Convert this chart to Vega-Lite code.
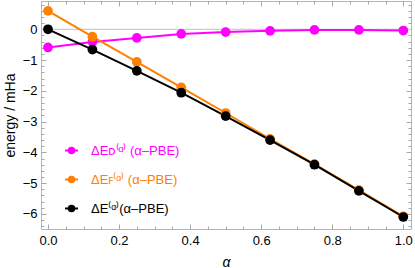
{
  "$schema": "https://vega.github.io/schema/vega-lite/v6.json",
  "width": 370,
  "height": 228,
  "autosize": "none",
  "padding": {"left": 41, "top": 1, "right": 4, "bottom": 39},
  "config": {
    "view": {"stroke": "#b4b4b4", "strokeWidth": 1},
    "font": "Liberation Sans"
  },
  "data": {
    "values": [
      {"alpha": 0, "series": "D", "energy": -0.59},
      {"alpha": 0.125, "series": "D", "energy": -0.41},
      {"alpha": 0.25, "series": "D", "energy": -0.28},
      {"alpha": 0.375, "series": "D", "energy": -0.15},
      {"alpha": 0.5, "series": "D", "energy": -0.09},
      {"alpha": 0.625, "series": "D", "energy": -0.05},
      {"alpha": 0.75, "series": "D", "energy": -0.02},
      {"alpha": 0.875, "series": "D", "energy": -0.02},
      {"alpha": 1, "series": "D", "energy": -0.04},
      {"alpha": 0, "series": "F", "energy": 0.6},
      {"alpha": 0.125, "series": "F", "energy": -0.24},
      {"alpha": 0.25, "series": "F", "energy": -1.06},
      {"alpha": 0.375, "series": "F", "energy": -1.89},
      {"alpha": 0.5, "series": "F", "energy": -2.72},
      {"alpha": 0.625, "series": "F", "energy": -3.56},
      {"alpha": 0.75, "series": "F", "energy": -4.38},
      {"alpha": 0.875, "series": "F", "energy": -5.23},
      {"alpha": 1, "series": "F", "energy": -6.08},
      {"alpha": 0, "series": "T", "energy": 0.0},
      {"alpha": 0.125, "series": "T", "energy": -0.66},
      {"alpha": 0.25, "series": "T", "energy": -1.35},
      {"alpha": 0.375, "series": "T", "energy": -2.06},
      {"alpha": 0.5, "series": "T", "energy": -2.82},
      {"alpha": 0.625, "series": "T", "energy": -3.6},
      {"alpha": 0.75, "series": "T", "energy": -4.4},
      {"alpha": 0.875, "series": "T", "energy": -5.25},
      {"alpha": 1, "series": "T", "energy": -6.1}
    ]
  },
  "resolve": {"axis": {"x": "independent", "y": "independent"}},
  "layer": [
    {
      "data": {"values": [{"zero": 0}]},
      "mark": {"type": "rule", "color": "#cccccc", "strokeWidth": 1.2},
      "encoding": {
        "y": {"field": "zero", "type": "quantitative", "scale": {"domain": [-6.49, 0.92], "nice": false, "zero": false}, "axis": null}
      }
    },
    {
      "mark": {"type": "line", "strokeWidth": 2},
      "encoding": {
        "x": {
          "field": "alpha", "type": "quantitative",
          "scale": {"domain": [-0.0197, 1.0217], "nice": false, "zero": false},
          "axis": {
            "orient": "bottom",
            "values": [0, 0.05, 0.1, 0.15, 0.2, 0.25, 0.3, 0.35, 0.4, 0.45, 0.5, 0.55, 0.6, 0.65, 0.7, 0.75, 0.8, 0.85, 0.9, 0.95, 1],
            "domain": false, "grid": false,
            "tickColor": "#a8a8a8", "tickWidth": 1,
            "tickSize": {"condition": {"test": "abs(datum.value*5-round(datum.value*5))<0.001", "value": -5}, "value": -3},
            "labelExpr": "abs(datum.value*5-round(datum.value*5))<0.001 ? format(datum.value,'.1f') : ''",
            "labelFontSize": 13, "labelPadding": 10, "labelFlush": false, "labelOverlap": false, "labelColor": "#000000",
            "title": "α", "titleFontStyle": "italic", "titleFontWeight": "normal", "titleFontSize": 14, "titlePadding": 6, "titleColor": "#000000"
          }
        },
        "y": {
          "field": "energy", "type": "quantitative",
          "scale": {"domain": [-6.49, 0.92], "nice": false, "zero": false},
          "axis": {
            "orient": "left",
            "values": [-6.4, -6.2, -6, -5.8, -5.6, -5.4, -5.2, -5, -4.8, -4.6, -4.4, -4.2, -4, -3.8, -3.6, -3.4, -3.2, -3, -2.8, -2.6, -2.4, -2.2, -2, -1.8, -1.6, -1.4, -1.2, -1, -0.8, -0.6, -0.4, -0.2, 0, 0.2, 0.4, 0.6, 0.8],
            "domain": false, "grid": false,
            "tickColor": "#a8a8a8", "tickWidth": 1,
            "tickSize": {"condition": {"test": "abs(datum.value-round(datum.value))<0.001", "value": -5}, "value": -3},
            "labelExpr": "abs(datum.value-round(datum.value))<0.001 ? format(datum.value,'d') : ''",
            "labelFontSize": 13, "labelPadding": 9, "labelOverlap": false, "labelColor": "#000000",
            "title": "energy / mHa", "titleFontWeight": "normal", "titleFontSize": 14, "titlePadding": 5, "titleColor": "#000000"
          }
        },
        "color": {
          "field": "series", "type": "nominal",
          "scale": {"domain": ["D", "F", "T"], "range": ["#ff00ff", "#ff8000", "#000000"]},
          "legend": {
            "orient": "none", "legendX": 24, "legendY": 143,
            "title": null,
            "symbolType": "M-2,0L2,0M0.85,0A0.85,0.85,0,1,1,-0.85,0A0.85,0.85,0,1,1,0.85,0Z",
            "symbolSize": 42, "symbolStrokeWidth": 2,
            "labelFontSize": 13, "labelOffset": 13, "rowPadding": 14,
            "labelExpr": "datum.value=='D' ? ' ΔEᴅ⁽ᵅ⁾ (α–PBE)' : datum.value=='F' ? 'ΔEꜰ⁽ᵅ⁾ (α–PBE)' : 'ΔE⁽ᵅ⁾(α–PBE)'",
            "encode": {
              "labels": {"update": {"fill": {"signal": "scale('color', datum.value)"}}},
              "symbols": {"update": {"fill": {"signal": "scale('color', datum.value)"}, "stroke": {"signal": "scale('color', datum.value)"}}}
            }
          }
        }
      }
    },
    {
      "mark": {"type": "point", "filled": true, "size": 95, "opacity": 1},
      "encoding": {
        "x": {
          "field": "alpha", "type": "quantitative",
          "axis": {
            "orient": "top",
            "values": [0, 0.05, 0.1, 0.15, 0.2, 0.25, 0.3, 0.35, 0.4, 0.45, 0.5, 0.55, 0.6, 0.65, 0.7, 0.75, 0.8, 0.85, 0.9, 0.95, 1],
            "domain": false, "grid": false, "labels": false, "title": null,
            "tickColor": "#a8a8a8", "tickWidth": 1,
            "tickSize": {"condition": {"test": "abs(datum.value*5-round(datum.value*5))<0.001", "value": -5}, "value": -3}
          }
        },
        "y": {
          "field": "energy", "type": "quantitative",
          "axis": {
            "orient": "right",
            "values": [-6.4, -6.2, -6, -5.8, -5.6, -5.4, -5.2, -5, -4.8, -4.6, -4.4, -4.2, -4, -3.8, -3.6, -3.4, -3.2, -3, -2.8, -2.6, -2.4, -2.2, -2, -1.8, -1.6, -1.4, -1.2, -1, -0.8, -0.6, -0.4, -0.2, 0, 0.2, 0.4, 0.6, 0.8],
            "domain": false, "grid": false, "labels": false, "title": null,
            "tickColor": "#a8a8a8", "tickWidth": 1,
            "tickSize": {"condition": {"test": "abs(datum.value-round(datum.value))<0.001", "value": -5}, "value": -3}
          }
        },
        "color": {"field": "series", "type": "nominal"}
      }
    }
  ]
}
